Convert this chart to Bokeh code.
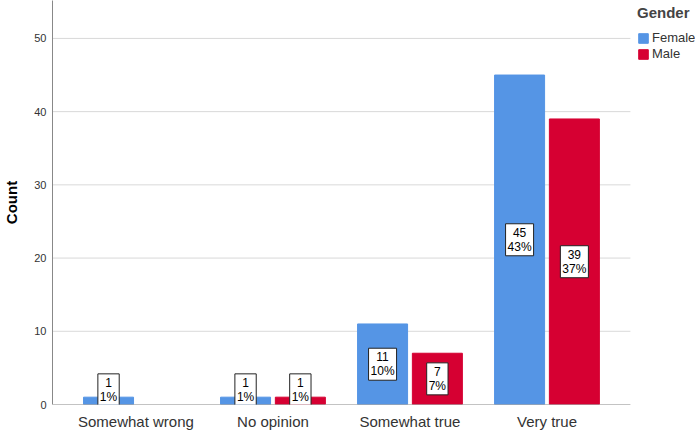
from bokeh.plotting import figure
from bokeh.models import (ColumnDataSource, FixedTicker, Legend, LegendItem, Range1d)
from bokeh.embed import file_html
from bokeh.resources import INLINE

categories = ["Somewhat wrong", "No opinion", "Somewhat true", "Very true"]
female_counts = [1, 1, 11, 45]
male_counts = [0, 1, 7, 39]
female_pct = ["1%", "1%", "10%", "43%"]
male_pct = ["", "1%", "7%", "37%"]
y_ticks = [0, 10, 20, 30, 40, 50]

BLUE = "#5595E5"
RED = "#D60032"
FONT = "Liberation Sans"

pos = list(range(len(categories)))
off = 0.2
bw = 0.365
X_LO, X_HI = -0.609, 3.609      # extent of the plotting area (grid/axis)
X_VIEW_HI = 4.084               # extra room on the right for the legend
Y_TOP = 55.18

def label_y(v):
    return max(v / 2.0, 2.0)

fsrc = ColumnDataSource(dict(
    x=[p_ - off for p_ in pos], top=female_counts,
    ly=[label_y(v) for v in female_counts],
    txt=[f"{c}\n{p}" for c, p in zip(female_counts, female_pct)],
))
mk = [i for i, c in enumerate(male_counts) if c > 0]
msrc = ColumnDataSource(dict(
    x=[pos[i] + off for i in mk], top=[male_counts[i] for i in mk],
))
mlab = ColumnDataSource(dict(
    x=[pos[i] + off for i in mk],
    ly=[label_y(male_counts[i]) for i in mk],
    txt=[f"{male_counts[i]}\n{male_pct[i]}" for i in mk],
))

p = figure(width=695, height=432, output_backend="svg", toolbar_location=None,
           x_range=Range1d(X_LO, X_VIEW_HI), y_range=Range1d(0, Y_TOP),
           min_border_left=52, min_border_right=0, min_border_top=0,
           min_border_bottom=27)
p.outline_line_color = None
p.background_fill_color = "white"

# grid lines limited to the plotting area
grid_y = [t for t in y_ticks if t > 0]
p.segment(x0=[X_LO] * len(grid_y), x1=[X_HI] * len(grid_y), y0=grid_y, y1=grid_y,
          line_color="#D9D9D9", line_width=1)

rf = p.vbar(x="x", top="top", width=bw, source=fsrc, fill_color=BLUE, line_color=BLUE)
rm = p.vbar(x="x", top="top", width=bw, source=msrc, fill_color=RED, line_color=RED)

# x axis base line limited to the plotting area
p.segment(x0=[X_LO], x1=[X_HI], y0=[0], y1=[0], line_color="#888888", line_width=1)

for src in (fsrc, mlab):
    p.text(x="x", y="ly", text="txt", source=src, text_align="center",
           text_baseline="middle", text_font_size="12px", text_color="black",
           text_font={"value": FONT}, text_line_height=1.0,
           background_fill_color="white", border_line_color="#222222",
           border_line_width=1, padding=2)

# axes
p.xaxis.ticker = FixedTicker(ticks=pos)
p.xaxis.major_label_overrides = {i: c for i, c in enumerate(categories)}
p.xaxis.major_label_text_font = FONT
p.xaxis.major_label_text_font_size = "15px"
p.xaxis.major_label_text_color = "#333333"
p.xaxis.major_tick_line_color = None
p.xaxis.major_tick_out = 0
p.xaxis.major_tick_in = 0
p.xaxis.minor_tick_line_color = None
p.xaxis.minor_tick_out = 0
p.xaxis.axis_line_color = None
p.xaxis.major_label_standoff = 8

p.yaxis.ticker = FixedTicker(ticks=y_ticks)
p.yaxis.major_label_text_font = FONT
p.yaxis.major_label_text_font_size = "11px"
p.yaxis.major_label_text_color = "#333333"
p.yaxis.major_tick_line_color = None
p.yaxis.major_tick_out = 0
p.yaxis.major_tick_in = 0
p.yaxis.minor_tick_line_color = None
p.yaxis.minor_tick_out = 0
p.yaxis.axis_line_color = "#888888"
p.yaxis.major_label_standoff = 6
p.yaxis.axis_label = "Count"
p.yaxis.axis_label_text_font = FONT
p.yaxis.axis_label_text_font_size = "15px"
p.yaxis.axis_label_text_font_style = "bold"
p.yaxis.axis_label_text_color = "black"
p.yaxis.axis_label_standoff = 11

p.xgrid.grid_line_color = None
p.ygrid.grid_line_color = None

legend = Legend(items=[LegendItem(label="Female", renderers=[rf]),
                       LegendItem(label="Male", renderers=[rm])],
                location=(585, 343), title="Gender",
                title_text_font=FONT, title_text_font_size="15px",
                title_text_font_style="bold", title_standoff=9,
                label_text_font=FONT, label_text_font_size="13px",
                label_text_color="#333333",
                glyph_width=12, glyph_height=12, label_height=12,
                label_standoff=3, spacing=1, padding=0, margin=0,
                border_line_color=None, background_fill_alpha=0)
p.add_layout(legend, "center")

open("out.html", "w").write(file_html(p, INLINE))
